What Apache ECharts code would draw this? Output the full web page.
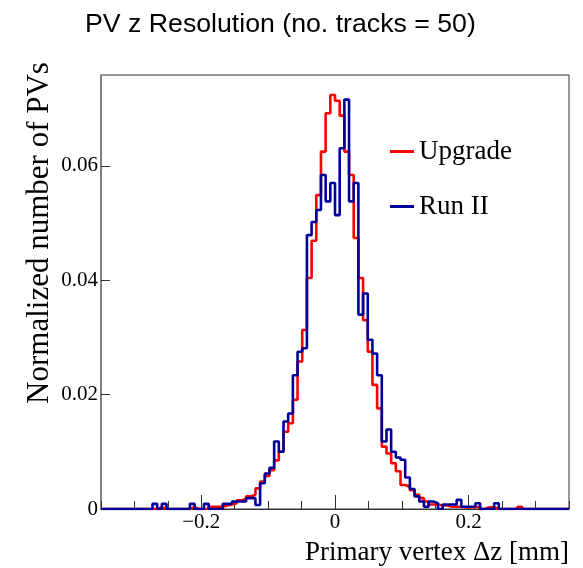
<!DOCTYPE html>
<html>
<head>
<meta charset="utf-8">
<script src="https://cdn.jsdelivr.net/npm/echarts@6/dist/echarts.min.js"></script>
<style>
  html, body { margin: 0; padding: 0; background: #fff; }
  #chart { width: 583px; height: 568px; }
</style>
</head>
<body>
<div id="chart"></div>
<script>
// Histogram binning: 100 bins from -0.35 to 0.35 mm
const binMin = -0.35;
const binMax = 0.35;
const binWidth = 0.007;

// Bin contents (normalized), bins ordered from left (-0.35) to right (+0.35)
const upgrade = [
  0,0,0,0,0,0,0,0,0,0,0,0,
  0.0003,0,0,0,0,0,0,0.0003,0,0,0,
  0.0004,0.0004,0.0004,0.0006,0.0008,0.0010,0.0015,0.0018,0.0022,0.0025,
  0.0036,0.0048,0.0058,0.0068,0.0085,0.0100,0.0135,0.0150,0.0191,0.0258,
  0.0313,0.0404,0.0469,0.0549,0.0625,0.0692,0.0724,
  0.0714,0.0688,0.0625,0.0584,0.0474,0.0404,0.0330,0.0275,0.0217,0.0176,
  0.0109,0.0097,0.0080,0.0066,0.0042,0.0039,0.0033,0.0025,0.0019,0.0013,
  0.0008,0.0008,0.0006,0.0006,0.0004,0.0004,0.0004,0.0003,0.0003,0.0003,
  0.0004,0,0.0003,0.0003,0,0,0,0,0,0.0004,
  0,0,0,0,0,0,0,0,0,0
];
const runII = [
  0,0,0,0,0,0,0,0,0,0,0,
  0.0009,0,0.0009,0,0,0,0,0,0.0009,0,0,0.0009,0,0,0,
  0.0009,0.0009,0.0013,0.0013,0.0013,0.0019,0.0019,0.0007,
  0.0045,0.0062,0.0072,0.0118,0.0100,0.0153,0.0167,0.0234,0.0275,0.0281,
  0.0479,0.0502,0.0523,0.0584,0.0538,0.0570,
  0.0514,0.0631,0.0716,0.0538,0.0570,0.0340,0.0377,0.0296,0.0272,0.0234,
  0.0118,0.0139,0.0100,0.0090,0.0086,0.0055,0.0035,0.0022,0.0013,0.0004,
  0.0013,0.0010,0,0.0008,0.0008,0.0008,0.0016,0.0004,0.0004,0.0004,
  0.0010,0,0,0,0.0010,0,0,0,0,0,
  0,0,0,0,0,0,0,0,0,0
];

const seriesNames = ['Upgrade', 'Run II'];
const xLabelValues = [-0.2, 0, 0.2];
const xMinorStep = 0.05;
const yMax = 0.0759;
const yTickValues = [0, 0.02, 0.04, 0.06];
const titleText = 'PV z Resolution (no. tracks = 50)';
const xTitle = 'Primary vertex \u0394z [mm]';
const yTitle = 'Normalized number of PVs';

function toSteps(vals) {
  const pts = vals.map((v, i) => [+(binMin + i * binWidth).toFixed(4), v]);
  pts.push([binMax, vals[vals.length - 1]]);
  return pts;
}
const xMinorTicks = [];
for (let i = 0; i <= Math.round((binMax - binMin) / xMinorStep); i++) {
  xMinorTicks.push(+(binMin + i * xMinorStep).toFixed(3));
}

const serif = 'Liberation Serif';
const chart = echarts.init(document.getElementById('chart'), null, { renderer: 'canvas' });
chart.setOption({
  animation: false,
  backgroundColor: '#fff',
  title: {
    text: titleText,
    left: 80, top: 6,
    textStyle: { fontFamily: 'Liberation Sans', fontSize: 26.7, fontWeight: 'normal', color: '#000' }
  },
  legend: {
    data: seriesNames,
    orient: 'vertical',
    left: 385, top: 133,
    itemWidth: 24, itemHeight: 3, itemGap: 28,
    icon: 'rect',
    textStyle: { fontFamily: serif, fontSize: 27, color: '#000' }
  },
  grid: {
    left: 101, top: 75, width: 468, height: 434,
    show: true, borderColor: '#333', borderWidth: 1, backgroundColor: '#fff'
  },
  xAxis: [{
    type: 'value', min: binMin, max: binMax,
    axisLine: { onZero: false, lineStyle: { color: '#333', width: 1 } },
    axisTick: { inside: true, length: 8, customValues: xMinorTicks, lineStyle: { color: '#333' } },
    axisLabel: {
      customValues: xLabelValues, margin: 3,
      formatter: v => (v < 0 ? '\u2212' : '') + (Math.abs(v) < 1e-9 ? '0' : Math.abs(v).toFixed(1)),
      fontFamily: serif, fontSize: 21, color: '#000'
    },
    splitLine: { show: false }
  }, {
    type: 'value', min: binMin, max: binMax, position: 'bottom',
    axisLine: { show: false, onZero: false },
    axisTick: { inside: true, length: 14, customValues: xLabelValues, lineStyle: { color: '#333' } },
    axisLabel: { show: false },
    splitLine: { show: false }
  }],
  yAxis: {
    type: 'value', min: 0, max: yMax,
    axisLine: { show: true, onZero: false, lineStyle: { color: '#777', width: 1.5 } },
    axisTick: { show: true, inside: true, length: 9, customValues: yTickValues, lineStyle: { color: '#333' } },
    axisLabel: {
      customValues: yTickValues, margin: 3,
      formatter: v => (v === 0 ? '0' : v.toFixed(2)),
      fontFamily: serif, fontSize: 21, color: '#000'
    },
    splitLine: { show: false }
  },
  graphic: [{
    type: 'text', x: 569, y: 553,
    style: { text: xTitle, fontFamily: serif, fontSize: 27, fill: '#000', textAlign: 'right', textVerticalAlign: 'middle' }
  }, {
    type: 'text', x: 40, y: 233, rotation: Math.PI / 2,
    style: { text: yTitle, fontFamily: serif, fontSize: 31, fill: '#000', textAlign: 'center', textVerticalAlign: 'middle' }
  }],
  series: [{
    name: seriesNames[0], type: 'line', step: 'end', xAxisIndex: 0,
    data: toSteps(upgrade), symbol: 'none', showSymbol: false,
    lineStyle: { color: '#ff0000', width: 2.6 }, itemStyle: { color: '#ff0000' }
  }, {
    name: seriesNames[1], type: 'line', step: 'end', xAxisIndex: 0,
    data: toSteps(runII), symbol: 'none', showSymbol: false,
    lineStyle: { color: '#000099', width: 2.6 }, itemStyle: { color: '#000099' }
  }]
});
</script>
</body>
</html>
